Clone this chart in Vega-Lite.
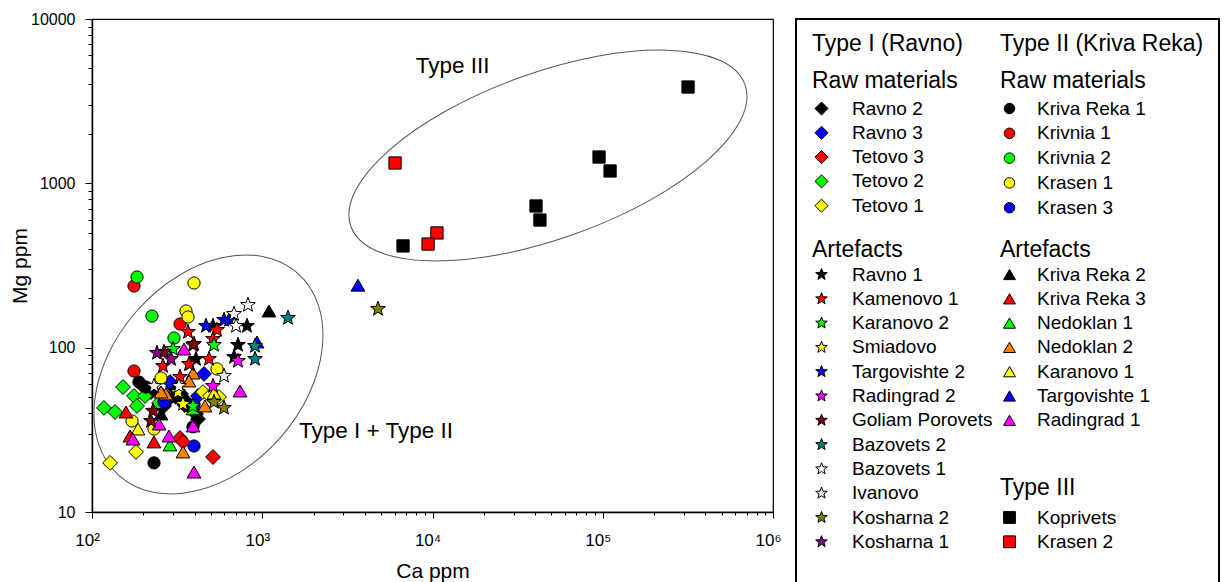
{
  "$schema": "https://vega.github.io/schema/vega-lite/v6.json",
  "padding": {"left": 8, "top": 10, "right": 0, "bottom": 0},
  "background": "white",
  "bounds": "flush",
  "spacing": 23,
  "config": {
    "font": "Liberation Sans",
    "view": {"stroke": "black", "strokeWidth": 1.2},
    "axis": {
      "grid": false,
      "domainColor": "black",
      "domainWidth": 1.5,
      "tickColor": "black",
      "tickWidth": 1,
      "labelFont": "Liberation Sans",
      "labelFontSize": 17,
      "labelColor": "black",
      "labelOverlap": false,
      "labelFlush": false,
      "labelBound": false,
      "titleFont": "Liberation Sans",
      "titleFontSize": 21,
      "titleFontWeight": "normal",
      "titleColor": "black"
    },
    "legend": {
      "titleFont": "Liberation Sans",
      "titleFontSize": 23,
      "titleFontWeight": "normal",
      "titleColor": "black",
      "titleLimit": 400,
      "labelFont": "Liberation Sans",
      "labelFontSize": 19,
      "labelColor": "black",
      "labelLimit": 300,
      "padding": 0,
      "rowPadding": 4.3,
      "titlePadding": 6,
      "labelOffset": 21,
      "symbolStrokeColor": "black",
      "symbolStrokeWidth": 1,
      "symbolOpacity": 1,
      "titleLineHeight": 37
    }
  },
  "datasets": {
    "pts": [
      {"g": "T1raw", "site": "Ravno 2", "ca": 194, "mg": 60.1},
      {"g": "T1raw", "site": "Ravno 2", "ca": 207.6, "mg": 56.0},
      {"g": "T1raw", "site": "Ravno 2", "ca": 222.1, "mg": 53.7},
      {"g": "T1raw", "site": "Ravno 2", "ca": 254.3, "mg": 52.3},
      {"g": "T1raw", "site": "Ravno 2", "ca": 283.3, "mg": 48.7},
      {"g": "T1raw", "site": "Ravno 2", "ca": 381.4, "mg": 42.4},
      {"g": "T1raw", "site": "Ravno 2", "ca": 408.2, "mg": 39.5},
      {"g": "T1raw", "site": "Ravno 2", "ca": 419.4, "mg": 36.8},
      {"g": "T1raw", "site": "Ravno 2", "ca": 356.6, "mg": 47.4},
      {"g": "T1raw", "site": "Ravno 2", "ca": 311.4, "mg": 50.1},
      {"g": "T1raw", "site": "Ravno 2", "ca": 299, "mg": 57.6},
      {"g": "T1raw", "site": "Ravno 2", "ca": 333, "mg": 52.3},
      {"g": "T1raw", "site": "Ravno 2", "ca": 350, "mg": 44.8},
      {"g": "T1raw", "site": "Ravno 2", "ca": 265, "mg": 44.2},
      {"g": "T1raw", "site": "Ravno 3", "ca": 454.8, "mg": 69.2},
      {"g": "T1raw", "site": "Ravno 3", "ca": 287.1, "mg": 61.8},
      {"g": "T1raw", "site": "Ravno 3", "ca": 419.4, "mg": 50.8},
      {"g": "T1raw", "site": "Tetovo 3", "ca": 328.8, "mg": 28.2},
      {"g": "T1raw", "site": "Tetovo 3", "ca": 342.4, "mg": 26.7},
      {"g": "T1raw", "site": "Tetovo 3", "ca": 513.7, "mg": 21.6},
      {"g": "T1raw", "site": "Tetovo 2", "ca": 152.1, "mg": 57.6},
      {"g": "T1raw", "site": "Tetovo 2", "ca": 176.5, "mg": 50.8},
      {"g": "T1raw", "site": "Tetovo 2", "ca": 204.8, "mg": 50.8},
      {"g": "T1raw", "site": "Tetovo 2", "ca": 183.8, "mg": 44.2},
      {"g": "T1raw", "site": "Tetovo 2", "ca": 247.5, "mg": 46.1},
      {"g": "T1raw", "site": "Tetovo 2", "ca": 117.6, "mg": 43.0},
      {"g": "T1raw", "site": "Tetovo 2", "ca": 136.5, "mg": 40.6},
      {"g": "T1raw", "site": "Tetovo 1", "ca": 448.7, "mg": 53.7},
      {"g": "T1raw", "site": "Tetovo 1", "ca": 557.2, "mg": 50.1},
      {"g": "T1raw", "site": "Tetovo 1", "ca": 493.3, "mg": 50.8},
      {"g": "T1raw", "site": "Tetovo 1", "ca": 181.3, "mg": 23.2},
      {"g": "T1raw", "site": "Tetovo 1", "ca": 127.6, "mg": 19.9},
      {"g": "T2raw", "site": "Kriva Reka 1", "ca": 231.3, "mg": 19.9},
      {"g": "T2raw", "site": "Kriva Reka 1", "ca": 188.8, "mg": 61.8},
      {"g": "T2raw", "site": "Kriva Reka 1", "ca": 392, "mg": 33.0},
      {"g": "T2raw", "site": "Kriva Reka 1", "ca": 207.6, "mg": 57.6},
      {"g": "T2raw", "site": "Krivnia 1", "ca": 176.5, "mg": 237.3},
      {"g": "T2raw", "site": "Krivnia 1", "ca": 328.8, "mg": 139.3},
      {"g": "T2raw", "site": "Krivnia 1", "ca": 176.5, "mg": 72.1},
      {"g": "T2raw", "site": "Krivnia 2", "ca": 183.8, "mg": 269.2},
      {"g": "T2raw", "site": "Krivnia 2", "ca": 225.1, "mg": 155.8},
      {"g": "T2raw", "site": "Krivnia 2", "ca": 303.1, "mg": 114.5},
      {"g": "T2raw", "site": "Krasen 1", "ca": 397.3, "mg": 247.5},
      {"g": "T2raw", "site": "Krasen 1", "ca": 356.6, "mg": 167.2},
      {"g": "T2raw", "site": "Krasen 1", "ca": 366.4, "mg": 153.7},
      {"g": "T2raw", "site": "Krasen 1", "ca": 254.3, "mg": 65.4},
      {"g": "T2raw", "site": "Krasen 1", "ca": 542.3, "mg": 74.2},
      {"g": "T2raw", "site": "Krasen 1", "ca": 171.8, "mg": 35.8},
      {"g": "T2raw", "site": "Krasen 1", "ca": 231.3, "mg": 32.0},
      {"g": "T2raw", "site": "Krasen 3", "ca": 397.3, "mg": 44.8},
      {"g": "T2raw", "site": "Krasen 3", "ca": 397.3, "mg": 25.2},
      {"g": "T2raw", "site": "Krasen 3", "ca": 264.8, "mg": 46.7},
      {"g": "T2art", "site": "Kriva Reka 2", "ca": 1095, "mg": 167.2},
      {"g": "T2art", "site": "Kriva Reka 2", "ca": 254.3, "mg": 39.5},
      {"g": "T2art", "site": "Kriva Reka 3", "ca": 158.4, "mg": 40.6},
      {"g": "T2art", "site": "Kriva Reka 3", "ca": 167.2, "mg": 29.0},
      {"g": "T2art", "site": "Kriva Reka 3", "ca": 231.3, "mg": 26.7},
      {"g": "T2art", "site": "Nedoklan 1", "ca": 287.1, "mg": 25.6},
      {"g": "T2art", "site": "Nedoklan 1", "ca": 392, "mg": 42.4},
      {"g": "T2art", "site": "Nedoklan 2", "ca": 392, "mg": 70.1},
      {"g": "T2art", "site": "Nedoklan 2", "ca": 371.4, "mg": 62.7},
      {"g": "T2art", "site": "Nedoklan 2", "ca": 272, "mg": 52.3},
      {"g": "T2art", "site": "Nedoklan 2", "ca": 461, "mg": 44.2},
      {"g": "T2art", "site": "Nedoklan 2", "ca": 342.4, "mg": 23.2},
      {"g": "T2art", "site": "Nedoklan 2", "ca": 254.3, "mg": 53.7},
      {"g": "T2art", "site": "Karanovo 1", "ca": 186.3, "mg": 32.0},
      {"g": "T2art", "site": "Karanovo 1", "ca": 520.7, "mg": 53.0},
      {"g": "T2art", "site": "Targovishte 1", "ca": 931.5, "mg": 108.3},
      {"g": "T2art", "site": "Targovishte 1", "ca": 3648, "mg": 240},
      {"g": "T2art", "site": "Radingrad 1", "ca": 347.1, "mg": 98.1},
      {"g": "T2art", "site": "Radingrad 1", "ca": 740.3, "mg": 54.5},
      {"g": "T2art", "site": "Radingrad 1", "ca": 247.5, "mg": 34.3},
      {"g": "T2art", "site": "Radingrad 1", "ca": 174.1, "mg": 27.8},
      {"g": "T2art", "site": "Radingrad 1", "ca": 283.3, "mg": 29.0},
      {"g": "T2art", "site": "Radingrad 1", "ca": 397.3, "mg": 17.5},
      {"g": "T2art", "site": "Radingrad 1", "ca": 392, "mg": 33.4},
      {"g": "T1art", "site": "Ravno 1", "ca": 513.7, "mg": 135.5},
      {"g": "T1art", "site": "Ravno 1", "ca": 813.5, "mg": 135.5},
      {"g": "T1art", "site": "Ravno 1", "ca": 720.5, "mg": 103.8},
      {"g": "T1art", "site": "Ravno 1", "ca": 682.6, "mg": 87.7},
      {"g": "T1art", "site": "Ravno 1", "ca": 376.4, "mg": 79.5},
      {"g": "T1art", "site": "Ravno 1", "ca": 408, "mg": 85.3},
      {"g": "T1art", "site": "Kamenovo 1", "ca": 366.4, "mg": 124.6},
      {"g": "T1art", "site": "Kamenovo 1", "ca": 542.3, "mg": 128.1},
      {"g": "T1art", "site": "Kamenovo 1", "ca": 513.7, "mg": 112.9},
      {"g": "T1art", "site": "Kamenovo 1", "ca": 261.2, "mg": 77.3},
      {"g": "T1art", "site": "Kamenovo 1", "ca": 371.4, "mg": 79.5},
      {"g": "T1art", "site": "Kamenovo 1", "ca": 486.6, "mg": 85.3},
      {"g": "T1art", "site": "Kamenovo 1", "ca": 328.8, "mg": 66.3},
      {"g": "T1art", "site": "Kamenovo 1", "ca": 392, "mg": 103.8},
      {"g": "T1art", "site": "Karanovo 2", "ca": 520.7, "mg": 103.8},
      {"g": "T1art", "site": "Karanovo 2", "ca": 299, "mg": 98.1},
      {"g": "T1art", "site": "Karanovo 2", "ca": 392, "mg": 44.2},
      {"g": "T1art", "site": "Smiadovo", "ca": 320, "mg": 53.7},
      {"g": "T1art", "site": "Smiadovo", "ca": 342.4, "mg": 45.4},
      {"g": "T1art", "site": "Targovishte 2", "ca": 467.3, "mg": 135.5},
      {"g": "T1art", "site": "Targovishte 2", "ca": 596.3, "mg": 147.4},
      {"g": "T1art", "site": "Targovishte 2", "ca": 637.9, "mg": 147.4},
      {"g": "T1art", "site": "Radingrad 2", "ca": 720.5, "mg": 83.0},
      {"g": "T1art", "site": "Radingrad 2", "ca": 513.7, "mg": 58.4},
      {"g": "T1art", "site": "Goliam Porovets", "ca": 397.3, "mg": 105.3},
      {"g": "T1art", "site": "Goliam Porovets", "ca": 222.1, "mg": 35.8},
      {"g": "T1art", "site": "Goliam Porovets", "ca": 228.2, "mg": 41.2},
      {"g": "T1art", "site": "Goliam Porovets", "ca": 264.8, "mg": 94.1},
      {"g": "T1art", "site": "Bazovets 2", "ca": 1417, "mg": 151.6},
      {"g": "T1art", "site": "Bazovets 2", "ca": 906.8, "mg": 102.4},
      {"g": "T1art", "site": "Bazovets 2", "ca": 906.8, "mg": 85.3},
      {"g": "T1art", "site": "Bazovets 1", "ca": 824.6, "mg": 181.8},
      {"g": "T1art", "site": "Bazovets 1", "ca": 682.6, "mg": 160.3},
      {"g": "T1art", "site": "Bazovets 1", "ca": 701.3, "mg": 135.5},
      {"g": "T1art", "site": "Bazovets 1", "ca": 324.3, "mg": 58.4},
      {"g": "T1art", "site": "Ivanovo", "ca": 596.3, "mg": 67.3},
      {"g": "T1art", "site": "Ivanovo", "ca": 231.3, "mg": 58.4},
      {"g": "T1art", "site": "Kosharna 2", "ca": 4786, "mg": 172},
      {"g": "T1art", "site": "Kosharna 2", "ca": 520.7, "mg": 46.7},
      {"g": "T1art", "site": "Kosharna 2", "ca": 596.3, "mg": 43.0},
      {"g": "T1art", "site": "Kosharna 1", "ca": 240.9, "mg": 92.8},
      {"g": "T1art", "site": "Kosharna 1", "ca": 291, "mg": 85.3},
      {"g": "T3", "site": "Koprivets", "ca": 317000, "mg": 3855},
      {"g": "T3", "site": "Koprivets", "ca": 95100, "mg": 1446},
      {"g": "T3", "site": "Koprivets", "ca": 110400, "mg": 1189},
      {"g": "T3", "site": "Koprivets", "ca": 40550, "mg": 728},
      {"g": "T3", "site": "Koprivets", "ca": 42760, "mg": 598},
      {"g": "T3", "site": "Koprivets", "ca": 6714, "mg": 416},
      {"g": "T3", "site": "Krasen 2", "ca": 6025, "mg": 1330},
      {"g": "T3", "site": "Krasen 2", "ca": 10620, "mg": 499},
      {"g": "T3", "site": "Krasen 2", "ca": 9420, "mg": 427}
    ],
    "ell": [
      {"id": 1, "ca": 483, "mg": 68.7},
      {"id": 2, "ca": 47660, "mg": 1476}
    ],
    "lbl": [
      {"t": "Type III", "ca": 13110, "mg": 5176},
      {"t": "Type I + Type II", "ca": 4656, "mg": 31.1}
    ]
  },
  "hconcat": [
    {
      "width": 681,
      "height": 493,
      "encoding": {
        "x": {
          "field": "ca", "type": "quantitative",
          "scale": {"type": "log", "domain": [100, 1000000], "nice": false},
          "axis": {
            "title": "Ca ppm",
            "values": [100,200,300,400,500,600,700,800,900,1000,2000,3000,4000,5000,6000,7000,8000,9000,10000,20000,30000,40000,50000,60000,70000,80000,90000,100000,200000,300000,400000,500000,600000,700000,800000,900000,1000000],
            "labelExpr": "abs(log(datum.value)/LN10 - round(log(datum.value)/LN10)) < 0.001 ? '10' + ['⁰','¹','²','³','⁴','⁵','⁶'][round(log(datum.value)/LN10)] : ''",
            "tickSize": {"condition": {"test": "abs(log(datum.value)/LN10 - round(log(datum.value)/LN10)) < 0.001", "value": 6}, "value": 3},
            "labelPadding": 14,
            "labelOffset": -5,
            "titlePadding": 12
          }
        },
        "y": {
          "field": "mg", "type": "quantitative",
          "scale": {"type": "log", "domain": [10, 10000], "nice": false},
          "axis": {
            "title": "Mg ppm",
            "values": [10,20,30,40,50,60,70,80,90,100,200,300,400,500,600,700,800,900,1000,2000,3000,4000,5000,6000,7000,8000,9000,10000],
            "labelExpr": "abs(log(datum.value)/LN10 - round(log(datum.value)/LN10)) < 0.001 ? format(datum.value, 'd') : ''",
            "tickSize": {"condition": {"test": "abs(log(datum.value)/LN10 - round(log(datum.value)/LN10)) < 0.001", "value": 7}, "value": 4},
            "labelFontSize": 16,
            "labelPadding": 10,
            "titlePadding": 0
          }
        }
      },
      "layer": [
        {
          "data": {"name": "ell"},
          "transform": [{"filter": "datum.id == 1"}],
          "mark": {"type": "point", "shape": "M1,0C1,0.3916 0.5523,0.709 0,0.709C-0.5523,0.709 -1,0.3916 -1,0C-1,-0.3916 -0.5523,-0.709 0,-0.709C0.5523,-0.709 1,-0.3916 1,0Z", "size": 72900, "angle": 311.3, "filled": false, "stroke": "#555555", "strokeWidth": 1, "opacity": 1}
        },
        {
          "data": {"name": "ell"},
          "transform": [{"filter": "datum.id == 2"}],
          "mark": {"type": "point", "shape": "M1,0C1,0.2187 0.5523,0.396 0,0.396C-0.5523,0.396 -1,0.2187 -1,0C-1,-0.2187 -0.5523,-0.396 0,-0.396C0.5523,-0.396 1,-0.2187 1,0Z", "size": 175400, "angle": 340.2, "filled": false, "stroke": "#555555", "strokeWidth": 1, "opacity": 1}
        },
        {
          "data": {"name": "lbl"},
          "mark": {"type": "text", "fontSize": 22.5, "color": "black", "font": "Liberation Sans", "align": "center", "baseline": "middle"},
          "encoding": {"text": {"field": "t"}}
        },
        {
          "data": {"name": "pts"},
          "transform": [{"filter": "datum.g == 'T1raw'"}],
          "mark": {"type": "point", "shape": "diamond", "filled": true, "size": 220, "stroke": "black", "strokeWidth": 1, "opacity": 1},
          "encoding": {
            "color": {
              "field": "site", "type": "nominal",
              "scale": {"domain": ["Ravno 2","Ravno 3","Tetovo 3","Tetovo 2","Tetovo 1"], "range": ["#000000","#0000ff","#ff0000","#00ff00","#ffff00"]},
              "legend": {"title": ["Type I (Ravno)", "Raw materials"], "orient": "none", "legendX": 720, "legendY": 14, "symbolType": "diamond", "symbolSize": 170}
            }
          }
        },
        {
          "data": {"name": "pts"},
          "transform": [{"filter": "datum.g == 'T2raw'"}],
          "mark": {"type": "point", "shape": "circle", "filled": true, "size": 150, "stroke": "black", "strokeWidth": 1, "opacity": 1},
          "encoding": {
            "color": {
              "field": "site", "type": "nominal",
              "scale": {"domain": ["Kriva Reka 1","Krivnia 1","Krivnia 2","Krasen 1","Krasen 3"], "range": ["#000000","#ff0000","#00ff00","#ffff00","#0000ff"]},
              "legend": {"title": ["Type II (Kriva Reka)", "Raw materials"], "orient": "none", "legendX": 908, "legendY": 14, "symbolType": "circle", "symbolSize": 110, "labelOffset": 18, "rowPadding": 4.8}
            }
          }
        },
        {
          "data": {"name": "pts"},
          "transform": [{"filter": "datum.g == 'T2art'"}],
          "mark": {"type": "point", "shape": "triangle-up", "filled": true, "size": 190, "stroke": "black", "strokeWidth": 1, "opacity": 1},
          "encoding": {
            "color": {
              "field": "site", "type": "nominal",
              "scale": {"domain": ["Kriva Reka 2","Kriva Reka 3","Nedoklan 1","Nedoklan 2","Karanovo 1","Targovishte 1","Radingrad 1"], "range": ["#000000","#ff0000","#00ff00","#ff8000","#ffff00","#0000ff","#ff00ff"]},
              "legend": {"title": "Artefacts", "orient": "none", "legendX": 908, "legendY": 220, "symbolType": "triangle-up", "symbolSize": 140, "titlePadding": 3, "labelOffset": 18}
            }
          }
        },
        {
          "data": {"name": "pts"},
          "transform": [{"filter": "datum.g == 'T1art'"}],
          "mark": {"type": "point", "shape": "M0,-1L0.247,-0.34L0.951,-0.309L0.399,0.13L0.588,0.809L0,0.42L-0.588,0.809L-0.399,0.13L-0.951,-0.309L-0.247,-0.34Z", "filled": true, "size": 240, "stroke": "black", "strokeWidth": 1, "opacity": 1},
          "encoding": {
            "color": {
              "field": "site", "type": "nominal",
              "scale": {"domain": ["Ravno 1","Kamenovo 1","Karanovo 2","Smiadovo","Targovishte 2","Radingrad 2","Goliam Porovets","Bazovets 2","Bazovets 1","Ivanovo","Kosharna 2","Kosharna 1"], "range": ["#000000","#ff0000","#00ff00","#ffff00","#0000ff","#ff00ff","#800000","#008080","#ffffff","#e8e8e8","#808000","#800080"]},
              "legend": {"title": "Artefacts", "orient": "none", "legendX": 720, "legendY": 220, "symbolType": "M0,-1L0.247,-0.34L0.951,-0.309L0.399,0.13L0.588,0.809L0,0.42L-0.588,0.809L-0.399,0.13L-0.951,-0.309L-0.247,-0.34Z", "symbolSize": 150, "titlePadding": 3}
            }
          }
        },
        {
          "data": {"name": "pts"},
          "transform": [{"filter": "datum.g == 'T3'"}],
          "mark": {"type": "point", "shape": "square", "filled": true, "size": 150, "stroke": "black", "strokeWidth": 1, "opacity": 1},
          "encoding": {
            "color": {
              "field": "site", "type": "nominal",
              "scale": {"domain": ["Koprivets","Krasen 2"], "range": ["#000000","#ff0000"]},
              "legend": {"title": "Type III", "orient": "none", "legendX": 908, "legendY": 458, "symbolType": "square", "symbolSize": 140, "titlePadding": 8, "labelOffset": 18}
            }
          }
        }
      ],
      "resolve": {"scale": {"color": "independent"}, "legend": {"color": "independent"}}
    },
    {
      "width": 423,
      "height": 620,
      "view": {"stroke": "black", "strokeWidth": 2},
      "data": {"values": [{"t": ""}]},
      "mark": {"type": "text"},
      "encoding": {"text": {"field": "t"}}
    }
  ]
}
